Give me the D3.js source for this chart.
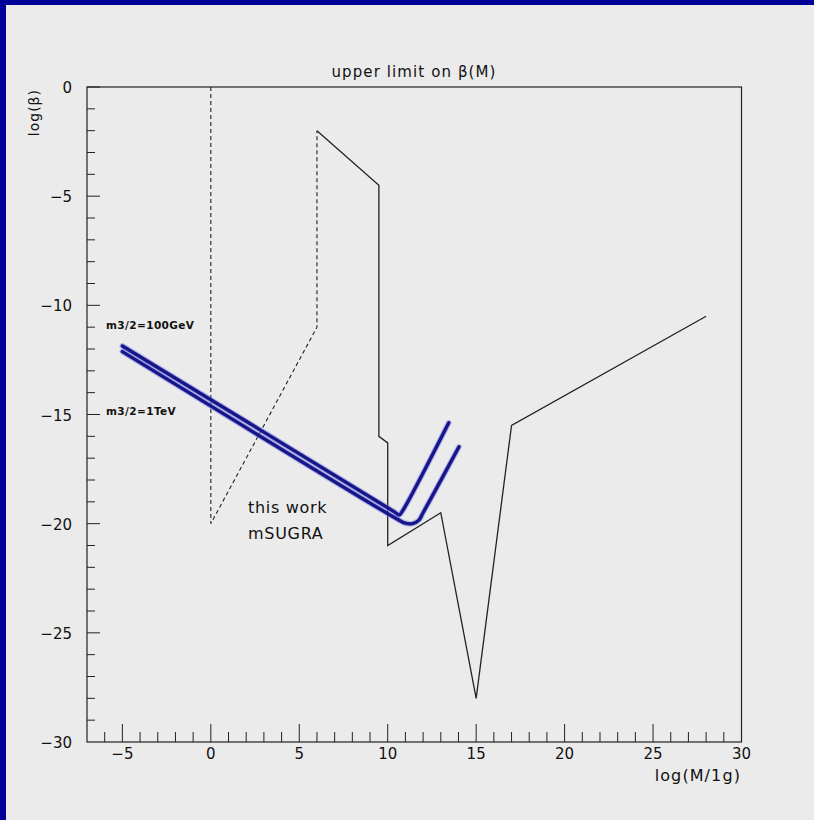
<!DOCTYPE html>
<html>
<head>
<meta charset="utf-8">
<script src="https://cdn.jsdelivr.net/npm/d3@7/dist/d3.min.js"></script>
<style>
html,body{margin:0;padding:0;background:#ebebeb;}
svg{display:block;}
text{font-family:"DejaVu Sans","Liberation Sans",Arial,sans-serif;fill:#111;}
</style>
</head>
<body>
<svg id="chart" width="814" height="820"></svg>
<script>
// ---- data ----
const xTicks = [-5, 0, 5, 10, 15, 20, 25, 30];
const yTicks = [0, -5, -10, -15, -20, -25, -30];
const xMinorTicks = d3.range(-7, 31, 1);
const yMinorTicks = d3.range(-30, 1, 1);

// dashed limit (x = log(M/1g), y = log(beta))
const dashedX = [0, 0, 6, 6];
const dashedY = [0, -20, -11, -2];

// solid limit
const solidX = [6, 9.5, 9.5, 10, 10, 13, 15, 17, 28];
const solidY = [-2, -4.5, -16, -16.3, -21, -19.5, -28, -15.5, -10.5];

// this work, mSUGRA: m3/2 = 100 GeV
const m100X = [-5, 10.4, 10.65, 10.85, 13.45];
const m100Y = [-11.86, -19.47, -19.6, -19.4, -15.38];
// m3/2 = 1 TeV
const m1TX = [-5, 10.6, 11.0, 11.4, 11.75, 12.0, 14.03];
const m1TY = [-12.12, -19.82, -19.98, -20.0, -19.85, -19.5, -16.48];

const title = "upper limit on β(M)";
const xLabel = "log(M/1g)";
const yLabel = "log(β)";

// ---- drawing ----
const svg = d3.select("#chart");
const W = 814, H = 820;
svg.append("rect").attr("width", W).attr("height", H).attr("fill", "#ebebeb");
// blue border (left and top)
svg.append("rect").attr("x", 0).attr("y", 0).attr("width", W).attr("height", 5).attr("fill", "#000099");
svg.append("rect").attr("x", 0).attr("y", 0).attr("width", 6).attr("height", H).attr("fill", "#000099");

const x = d3.scaleLinear().domain([-7, 30]).range([87, 741.5]);
const y = d3.scaleLinear().domain([-30, 0]).range([742, 87]);

// frame
svg.append("rect")
  .attr("x", x(-7)).attr("y", y(0))
  .attr("width", x(30) - x(-7)).attr("height", y(-30) - y(0))
  .attr("fill", "none").attr("stroke", "#222").attr("stroke-width", 1.2);

// x axis ticks (inward)
const gx = svg.append("g");
gx.selectAll("line.minor").data(xMinorTicks.filter(v => v > -7 && v < 30)).enter().append("line")
  .attr("x1", d => x(d)).attr("x2", d => x(d))
  .attr("y1", y(-30)).attr("y2", d => y(-30) - (d % 5 === 0 ? 18 : 10))
  .attr("stroke", "#222").attr("stroke-width", 1);
gx.selectAll("text").data(xTicks).enter().append("text")
  .attr("x", d => x(d)).attr("y", 759)
  .attr("text-anchor", "middle").attr("font-size", 15)
  .text(d => d < 0 ? "\u2212" + Math.abs(d) : d);

// y axis ticks (inward)
const gy = svg.append("g");
gy.selectAll("line").data(yMinorTicks.filter(v => v > -30 && v <= 0)).enter().append("line")
  .attr("x1", x(-7)).attr("x2", d => x(-7) + (d % 5 === 0 ? 13 : 8))
  .attr("y1", d => y(d)).attr("y2", d => y(d))
  .attr("stroke", "#222").attr("stroke-width", 1);
gy.selectAll("text").data(yTicks).enter().append("text")
  .attr("x", 72).attr("y", d => y(d) + 6)
  .attr("text-anchor", "end").attr("font-size", 15)
  .text(d => d < 0 ? "\u2212" + Math.abs(d) : d);

// titles
svg.append("text").attr("x", 414).attr("y", 77).attr("text-anchor", "middle")
  .attr("font-size", 15).attr("letter-spacing", 1.1).text(title);
svg.append("text").attr("x", 741).attr("y", 781).attr("text-anchor", "end")
  .attr("font-size", 16).attr("letter-spacing", 1.1).text(xLabel);
svg.append("text").attr("transform", "translate(39,89) rotate(-90)")
  .attr("text-anchor", "end").attr("font-size", 14).attr("letter-spacing", 1).text(yLabel);

const line = d3.line().x(d => x(d[0])).y(d => y(d[1]));
const zip = (a, b) => a.map((v, i) => [v, b[i]]);

svg.append("path").datum(zip(dashedX, dashedY)).attr("d", line)
  .attr("fill", "none").attr("stroke", "#222").attr("stroke-width", 1.1)
  .attr("stroke-dasharray", "4,3");
svg.append("path").datum(zip(solidX, solidY)).attr("d", line)
  .attr("fill", "none").attr("stroke", "#222").attr("stroke-width", 1.3)
  .attr("stroke-linejoin", "miter");

const curve = d3.line().x(d => x(d[0])).y(d => y(d[1])).curve(d3.curveCatmullRom.alpha(0.5));
[zip(m100X, m100Y), zip(m1TX, m1TY)].forEach(pts => {
  svg.append("path").datum(pts).attr("d", curve)
    .attr("fill", "none").attr("stroke", "#7a7ae0").attr("stroke-width", 5.5)
    .attr("stroke-opacity", 0.55).attr("stroke-linecap", "round");
});
[zip(m100X, m100Y), zip(m1TX, m1TY)].forEach(pts => {
  svg.append("path").datum(pts).attr("d", curve)
    .attr("fill", "none").attr("stroke", "#16168a").attr("stroke-width", 3.4)
    .attr("stroke-linecap", "round");
});

// annotations
svg.append("text").attr("x", 106).attr("y", 329).attr("font-size", 10.5).attr("font-weight", "bold")
  .attr("letter-spacing", 0.4).text("m3/2=100GeV");
svg.append("text").attr("x", 106).attr("y", 415).attr("font-size", 10.5).attr("font-weight", "bold")
  .attr("letter-spacing", 0.4).text("m3/2=1TeV");
svg.append("text").attr("x", 248).attr("y", 513).attr("font-size", 16).attr("letter-spacing", 0.7).text("this work");
svg.append("text").attr("x", 248).attr("y", 539).attr("font-size", 16).attr("letter-spacing", 0.7).text("mSUGRA");
</script>
</body>
</html>
